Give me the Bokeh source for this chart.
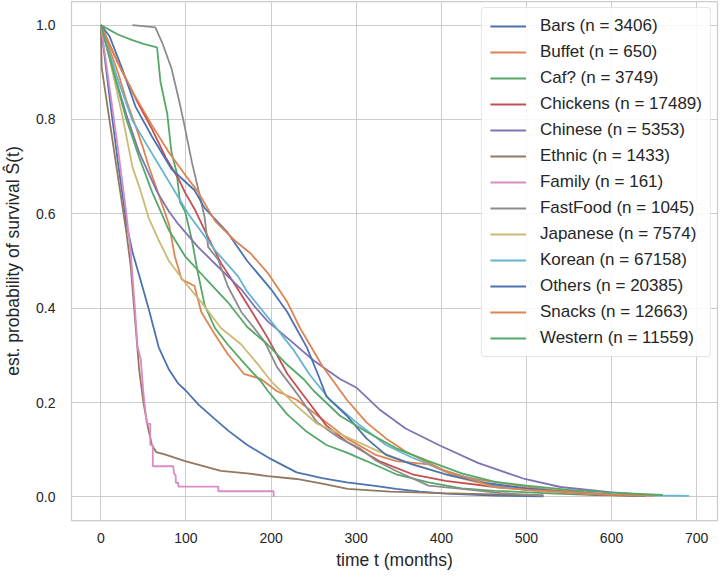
from bokeh.plotting import figure
from bokeh.models import Legend, LegendItem, FixedTicker, PrintfTickFormatter, Range1d
from bokeh.embed import file_html
from bokeh.resources import INLINE

labels = ["Bars (n = 3406)", "Buffet (n = 650)", "Caf? (n = 3749)", "Chickens (n = 17489)",
          "Chinese (n = 5353)", "Ethnic (n = 1433)", "Family (n = 161)", "FastFood (n = 1045)",
          "Japanese (n = 7574)", "Korean (n = 67158)", "Others (n = 20385)", "Snacks (n = 12663)",
          "Western (n = 11559)"]
colors = ["#4C72B0", "#DD8452", "#55A868", "#C44E52", "#8172B3", "#937860", "#DA8BC3",
          "#8C8C8C", "#CCB974", "#64B5CD", "#4C72B0", "#DD8452", "#55A868"]

bars_t = [0, 10, 20, 27, 30, 37, 45, 56, 68, 80, 91, 100, 115, 134, 150, 172, 200, 230, 260, 289, 320, 347, 375, 405, 463, 520]
bars_s = [1.0, 0.85, 0.71, 0.62, 0.58, 0.52, 0.47, 0.40, 0.317, 0.27, 0.24, 0.225, 0.195, 0.165, 0.14, 0.11, 0.08, 0.052, 0.04, 0.031, 0.024, 0.017, 0.011, 0.007, 0.003, 0.001]

buffet_t = [0, 10, 20, 30, 41, 49, 56, 64, 70, 80, 87, 95, 110, 118, 134, 149, 168, 188, 207, 230, 265, 289, 323, 347, 385, 412, 450, 500, 529, 567]
buffet_s = [1.0, 0.95, 0.90, 0.84, 0.785, 0.743, 0.702, 0.661, 0.63, 0.578, 0.509, 0.461, 0.447, 0.392, 0.344, 0.303, 0.261, 0.25, 0.224, 0.206, 0.158, 0.124, 0.089, 0.076, 0.069, 0.048, 0.035, 0.022, 0.015, 0.012]

cafe_t = [0, 20, 37, 50, 66, 70, 78, 83, 89, 93, 99, 107, 114, 122, 134, 149, 169, 188, 196, 219, 242, 265, 289, 312, 347, 385, 424, 463, 520, 580, 640]
cafe_s = [1.0, 0.98, 0.968, 0.96, 0.953, 0.88, 0.812, 0.73, 0.688, 0.625, 0.605, 0.544, 0.475, 0.406, 0.358, 0.323, 0.282, 0.245, 0.225, 0.175, 0.138, 0.11, 0.094, 0.076, 0.048, 0.031, 0.018, 0.013, 0.008, 0.004, 0.002]

chickens_t = [0, 20, 45, 60, 76, 91, 99, 111, 126, 141, 161, 180, 196, 219, 242, 265, 289, 327, 366, 405, 463, 520, 580, 630]
chickens_s = [1.0, 0.92, 0.83, 0.78, 0.72, 0.675, 0.645, 0.607, 0.55, 0.496, 0.44, 0.385, 0.337, 0.261, 0.206, 0.151, 0.117, 0.076, 0.048, 0.034, 0.021, 0.012, 0.005, 0.002]

chinese_t = [0, 15, 30, 45, 66, 80, 91, 114, 141, 165, 180, 196, 219, 250, 265, 281, 300, 327, 358, 397, 443, 498, 540, 598, 637]
chinese_s = [1.0, 0.9, 0.81, 0.73, 0.647, 0.605, 0.578, 0.53, 0.482, 0.44, 0.405, 0.372, 0.337, 0.289, 0.27, 0.25, 0.232, 0.186, 0.145, 0.11, 0.072, 0.038, 0.021, 0.01, 0.005]

ethnic_t = [0, 1, 10, 20, 30, 35, 40, 45, 50, 55, 60, 65, 75, 99, 141, 172, 196, 230, 260, 290, 340, 400, 450, 520]
ethnic_s = [1.0, 0.91, 0.8, 0.68, 0.56, 0.49, 0.38, 0.27, 0.2, 0.15, 0.11, 0.095, 0.09, 0.076, 0.055, 0.05, 0.044, 0.038, 0.028, 0.017, 0.011, 0.008, 0.006, 0.003]

family_t = [0, 10, 20, 30, 35, 40, 43, 47, 50, 54, 58, 58, 61, 61, 85, 86, 88, 88, 91, 91, 138, 138, 203, 203]
family_s = [1.0, 0.87, 0.74, 0.6, 0.52, 0.4, 0.32, 0.29, 0.22, 0.155, 0.155, 0.11, 0.11, 0.065, 0.065, 0.05, 0.045, 0.03, 0.03, 0.022, 0.022, 0.012, 0.012, 0.0]

fastfood_t = [37, 50, 64, 72, 83, 91, 97, 107, 116, 122, 126, 138, 149, 165, 180, 192, 207, 230, 254, 281, 304, 324, 347, 385, 424, 470, 520]
fastfood_s = [1.0, 0.998, 0.995, 0.963, 0.908, 0.847, 0.798, 0.709, 0.64, 0.592, 0.53, 0.502, 0.447, 0.392, 0.358, 0.33, 0.275, 0.22, 0.158, 0.124, 0.103, 0.076, 0.055, 0.024, 0.017, 0.008, 0.003]

japanese_t = [0, 10, 25, 37, 47, 56, 68, 80, 99, 118, 141, 165, 185, 200, 230, 254, 289, 327, 366, 405, 463, 520, 580, 640]
japanese_s = [1.0, 0.93, 0.81, 0.70, 0.647, 0.592, 0.544, 0.5, 0.454, 0.413, 0.358, 0.323, 0.28, 0.245, 0.193, 0.155, 0.127, 0.096, 0.069, 0.048, 0.021, 0.012, 0.006, 0.003]

korean_t = [0, 18, 37, 64, 87, 103, 134, 161, 172, 200, 227, 245, 269, 300, 335, 366, 405, 463, 500, 550, 600, 650, 691]
korean_s = [1.0, 0.895, 0.798, 0.716, 0.647, 0.599, 0.523, 0.468, 0.435, 0.372, 0.31, 0.26, 0.206, 0.158, 0.11, 0.083, 0.055, 0.024, 0.018, 0.01, 0.006, 0.003, 0.002]

others_t = [0, 10, 25, 41, 60, 83, 110, 122, 149, 172, 200, 219, 242, 255, 265, 289, 312, 335, 366, 405, 450, 500, 550, 600, 640]
others_s = [1.0, 0.977, 0.908, 0.826, 0.764, 0.695, 0.65, 0.612, 0.56, 0.5, 0.44, 0.392, 0.317, 0.26, 0.213, 0.172, 0.124, 0.089, 0.069, 0.048, 0.03, 0.018, 0.01, 0.005, 0.002]

snacks_t = [0, 20, 40, 60, 80, 100, 114, 134, 157, 176, 196, 219, 234, 260, 289, 312, 335, 358, 405, 463, 500, 550, 600, 650]
snacks_s = [1.0, 0.92, 0.85, 0.788, 0.73, 0.68, 0.647, 0.585, 0.544, 0.516, 0.475, 0.413, 0.358, 0.278, 0.206, 0.158, 0.124, 0.096, 0.055, 0.021, 0.015, 0.01, 0.005, 0.002]

western_t = [0, 15, 30, 45, 60, 70, 80, 99, 122, 149, 172, 196, 219, 238, 250, 281, 312, 347, 385, 424, 463, 500, 550, 600, 660]
western_s = [1.0, 0.9, 0.8, 0.72, 0.647, 0.606, 0.565, 0.51, 0.465, 0.413, 0.36, 0.323, 0.28, 0.25, 0.225, 0.172, 0.138, 0.103, 0.076, 0.05, 0.032, 0.024, 0.015, 0.009, 0.004]

series = [(bars_t, bars_s), (buffet_t, buffet_s), (cafe_t, cafe_s), (chickens_t, chickens_s),
          (chinese_t, chinese_s), (ethnic_t, ethnic_s), (family_t, family_s),
          (fastfood_t, fastfood_s), (japanese_t, japanese_s), (korean_t, korean_s),
          (others_t, others_s), (snacks_t, snacks_s), (western_t, western_s)]

x_ticks = [0, 100, 200, 300, 400, 500, 600, 700]
y_ticks = [0.0, 0.2, 0.4, 0.6, 0.8, 1.0]

FONT = "Liberation Sans"
TXT = "#262626"
GRID = "#cccccc"

p = figure(width=719, height=572, output_backend="svg", toolbar_location=None,
           x_range=Range1d(-34.5, 724.5), y_range=Range1d(-0.05, 1.05),
           min_border_left=63, min_border_right=2, min_border_top=1, min_border_bottom=44)
p.background_fill_color = "white"
p.border_fill_color = "white"
p.outline_line_color = GRID
p.outline_line_width = 1.25

items = []
for (t, s), lab, col in zip(series, labels, colors):
    r = p.line(t, s, line_color=col, line_width=1.8)
    items.append(LegendItem(label=lab, renderers=[r]))

for ax in (p.xaxis[0], p.yaxis[0]):
    ax.axis_line_color = None
    ax.major_tick_line_color = None
    ax.minor_tick_line_color = None
    ax.major_label_text_font = FONT
    ax.major_label_text_font_size = "14px"
    ax.major_label_text_color = TXT
    ax.axis_label_text_font = FONT
    ax.axis_label_text_font_size = "17.5px"
    ax.axis_label_text_font_style = "normal"
    ax.axis_label_text_color = TXT

p.xaxis.ticker = FixedTicker(ticks=x_ticks)
p.yaxis.ticker = FixedTicker(ticks=y_ticks)
p.yaxis.formatter = PrintfTickFormatter(format="%.1f")
p.xaxis.axis_label = "time t (months)"
p.yaxis.axis_label = "est. probability of survival Ŝ(t)"
p.xaxis.major_label_standoff = 6
p.yaxis.major_label_standoff = 10
p.xaxis.axis_label_standoff = 4
p.yaxis.axis_label_standoff = 10

p.xgrid.grid_line_color = GRID
p.ygrid.grid_line_color = GRID
p.xgrid.grid_line_width = 1
p.ygrid.grid_line_width = 1

legend = Legend(items=items, location="top_right")
legend.margin = 6
legend.padding = 8
legend.spacing = 6
legend.label_height = 20
legend.glyph_height = 20
legend.glyph_width = 36
legend.label_standoff = 14
legend.label_text_font = FONT
legend.label_text_font_size = "17px"
legend.label_text_color = TXT
legend.border_line_color = GRID
legend.border_line_width = 1
legend.background_fill_color = "white"
legend.background_fill_alpha = 0.85
if "border_radius" in Legend.properties():
    legend.border_radius = 4
p.add_layout(legend)

open("out.html", "w").write(file_html(p, INLINE))
